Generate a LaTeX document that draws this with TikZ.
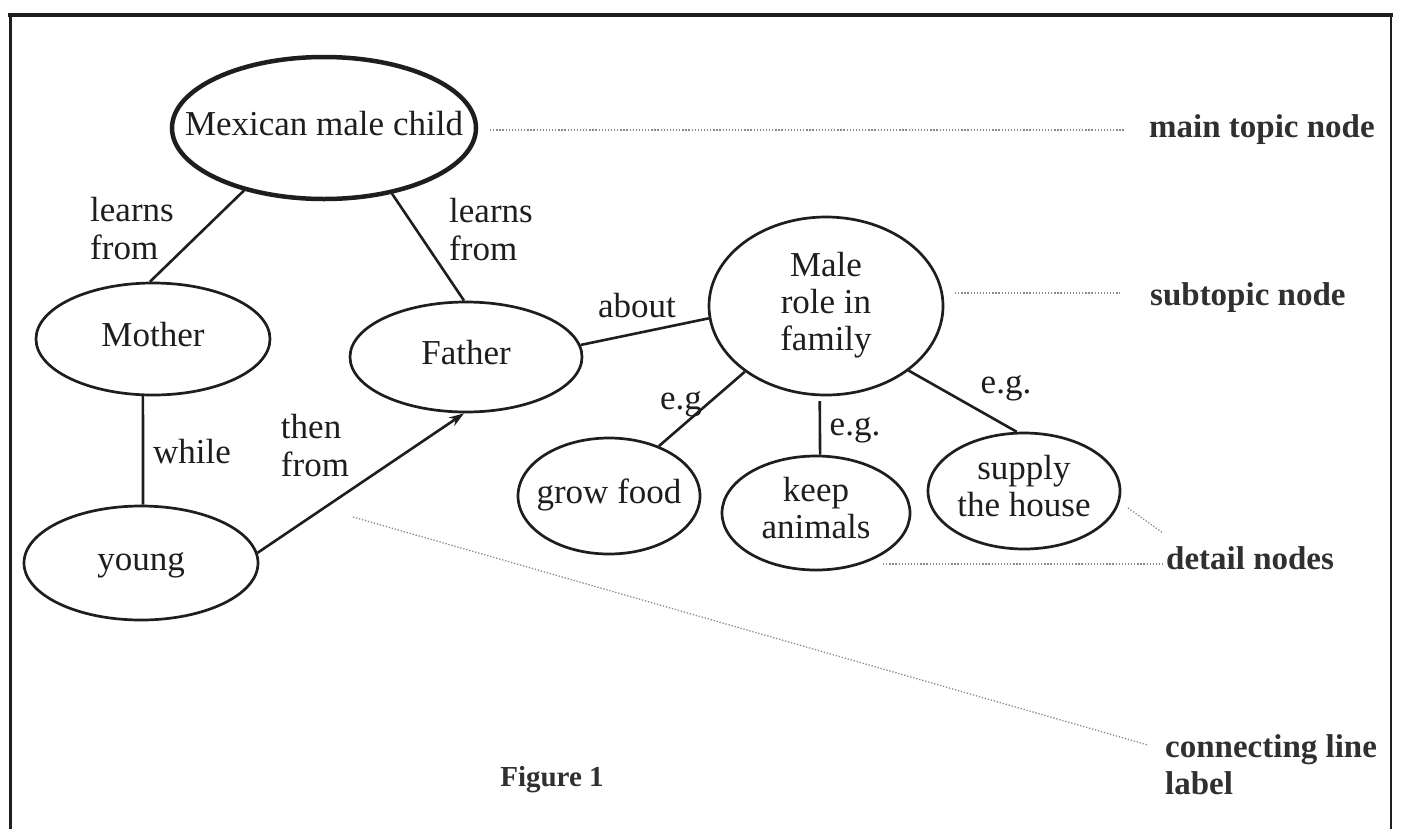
\documentclass[tikz,border=0pt]{standalone}
\usepackage{fontspec}
\setmainfont{Liberation Serif}
\usetikzlibrary{shapes.geometric,arrows.meta}
\definecolor{ink}{HTML}{1E1E1E}
\definecolor{anncol}{HTML}{303030}
\definecolor{dotcol}{HTML}{8A8A8A}
\newcommand{\ctxt}[1]{\makebox[0pt]{\begin{tabular}{@{}c@{}}#1\end{tabular}}}
\begin{document}
\begin{tikzpicture}[x=1pt,y=-1pt,
  ell/.style={ellipse,draw=ink,line width=2.7pt,inner sep=0pt,font=\fontsize{35}{37}\selectfont,text=ink},
  lbl/.style={align=left,font=\fontsize{35}{38}\selectfont,text=ink,inner sep=0pt},
  annot/.style={font=\bfseries\fontsize{33}{37}\selectfont,text=anncol,inner sep=0pt,align=left,anchor=west},
  con/.style={draw=ink,line width=2.6pt},
  dotline/.style={draw=dotcol,line width=1.3pt,dash pattern=on 1.3pt off 1.8pt}]
\useasboundingbox (0,0) rectangle (1402,828);
\fill[white] (0,0) rectangle (1402,828);
% frame
\draw[draw=ink,line width=3pt] (10,840) -- (10,15);
\draw[draw=ink,line width=2.6pt] (1391,15) -- (1391,840);
\draw[draw=ink,line width=4.5pt] (8,15) -- (1393,15);
% nodes
\node[ell,line width=4.5pt,minimum width=304pt,minimum height=142pt] (mex) at (324,128) {\ctxt{Mexican male child}};
\node[ell,minimum width=234pt,minimum height=112pt] (mother) at (153,339) {\ctxt{Mother}};
\node[ell,minimum width=232pt,minimum height=110pt] (father) at (466,357) {\ctxt{Father}};
\node[ell,minimum width=234pt,minimum height=178pt] (male) at (826,306) {\ctxt{Male\\role in\\family}};
\node[ell,minimum width=234pt,minimum height=114pt] (young) at (141,563) {\ctxt{young}};
\node[ell,minimum width=182pt,minimum height=116pt] (grow) at (609,496) {\ctxt{grow food}};
\node[ell,minimum width=188pt,minimum height=114pt] (keep) at (816,513) {\ctxt{keep\\animals}};
\node[ell,minimum width=192pt,minimum height=116pt] (supply) at (1024,491) {\ctxt{supply\\the house}};
% connectors
\draw[con] (mex.218) -- (mother.93);
\draw[con] (mex.316) -- (father.92);
\draw[con] (mother.260) -- (young.88);
\draw[con,-{Stealth[length=15pt,width=10pt]}] (young.5) -- (father.268);
\draw[con] (father.6) -- (male.186);
\draw[con] (male.219) -- (grow.45);
\draw[con,shorten <=5pt] (male.266) -- (keep.86);
\draw[con] (male.322) -- (supply.97);
% connector labels
\node[lbl] (lf1) at (132,229) {learns\\from};
\node[lbl] (lf2) at (491,230) {learns\\from};
\node[lbl] (about) at (637,306) {about};
\node[lbl] (while) at (192,452) {while};
\node[lbl] (then) at (315,446) {then\\from};
\node[lbl] (eg1) at (681,404) {e.g};
\node[lbl] (eg2) at (855,430) {e.g.};
\node[lbl] (eg3) at (1006,388) {e.g.};
% annotations
\node[annot] (mainlbl) at (1149,130) {main topic node};
\node[annot] (sublbl) at (1150,298) {subtopic node};
\node[annot] (detlbl) at (1166,558) {detail nodes};
\node[annot] (conlbl) at (1165,765) {connecting line\\label};
\node[font=\bfseries\fontsize{29}{32}\selectfont,text=anncol,inner sep=0pt] (fig) at (552,780) {Figure 1};
% dotted pointer lines
\coordinate (m1) at (490,130); \coordinate (m2) at (1125,130);
\coordinate (s1) at (955,293); \coordinate (s2) at (1120,293);
\coordinate (d1) at (883,564); \coordinate (d2) at (1163,564);
\coordinate (d3) at (1128,508); \coordinate (d4) at (1163,533);
\coordinate (c1) at (353,517); \coordinate (c2) at (1148,745);
\draw[dotline] (m1) -- (m2);
\draw[dotline] (s1) -- (s2);
\draw[dotline] (d1) -- (d2);
\draw[dotline] (d3) -- (d4);
\draw[dotline] (c1) -- (c2);
\end{tikzpicture}
\end{document}
